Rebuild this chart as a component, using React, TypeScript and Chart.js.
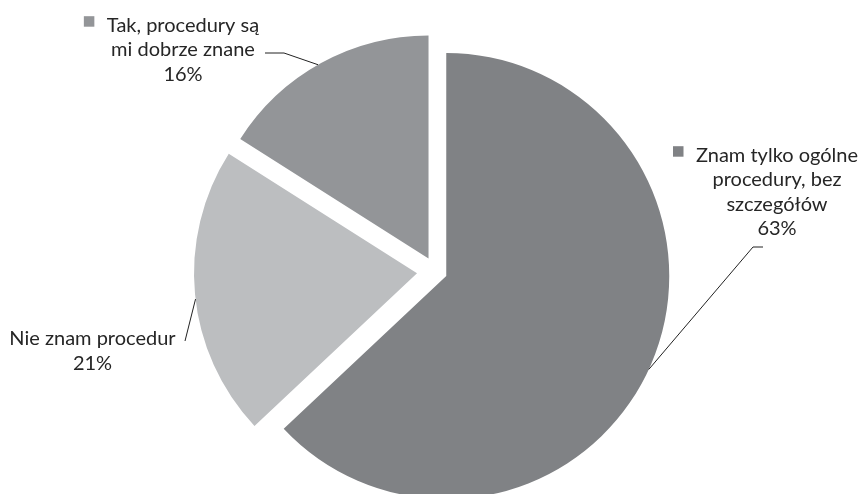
import React, { useEffect, useRef } from "react";
import { Chart, registerables } from "chart.js";

Chart.register(...registerables);

// ---- data ----
const categories = [
  "Znam tylko ogólne procedury, bez szczegółów",
  "Nie znam procedur",
  "Tak, procedury są mi dobrze znane",
];
const values = [63, 21, 16];
const labelLines = [
  ["Znam tylko ogólne", "procedury, bez", "szczegółów"],
  ["Nie znam procedur"],
  ["Tak, procedury są", "mi dobrze znane"],
];
const showKey = [true, false, true];

// ---- styles / layout ----
const colors = ["#808285", "#bcbec0", "#939598"];
const explode = [11.5, 18.75, 14.9];
const FONT = "Lato";
const FONT_SIZE = 20;
const LINE_H = 24.5;
const TEXT_COLOR = "#262626";
const labelLayout = [
  { cx: 777, y: 161.7, elbow: [[763, 247], [753, 247]], angle: 24.75 },
  { cx: 92.5, y: 345, elbow: [[185, 341]], angle: 173.35 },
  { cx: 183, y: 31.7, elbow: [[265, 53], [284, 53]], angle: 240.3 },
];

export default function App() {
  const ref = useRef<HTMLCanvasElement>(null);

  useEffect(() => {
    const canvas = ref.current;
    if (!canvas) return;

    const explodePlugin = {
      id: "explodeDraw",
      beforeDatasetDraw(chart: any, args: any) {
        const ctx = chart.ctx;
        args.meta.data.forEach((arc: any, i: number) => {
          const mid = (arc.startAngle + arc.endAngle) / 2;
          ctx.save();
          ctx.translate(Math.cos(mid) * explode[i], Math.sin(mid) * explode[i]);
          arc.draw(ctx, chart.chartArea);
          ctx.restore();
        });
        return false;
      },
    };

    const labelPlugin = {
      id: "pieLabels",
      afterDatasetsDraw(chart: any) {
        const ctx = chart.ctx;
        const meta = chart.getDatasetMeta(0);
        ctx.save();
        meta.data.forEach((arc: any, i: number) => {
          const mid = (arc.startAngle + arc.endAngle) / 2;
          const acx = arc.x + Math.cos(mid) * explode[i];
          const acy = arc.y + Math.sin(mid) * explode[i];
          const L = labelLayout[i];
          const a = (L.angle * Math.PI) / 180;
          const ex = acx + Math.cos(a) * arc.outerRadius;
          const ey = acy + Math.sin(a) * arc.outerRadius;
          // leader line
          ctx.beginPath();
          ctx.strokeStyle = "#222222";
          ctx.lineWidth = 1;
          ctx.moveTo(L.elbow[0][0], L.elbow[0][1]);
          for (let k = 1; k < L.elbow.length; k++) ctx.lineTo(L.elbow[k][0], L.elbow[k][1]);
          ctx.lineTo(ex, ey);
          ctx.stroke();
          // text
          ctx.font = `${FONT_SIZE}px ${FONT}`;
          ctx.textAlign = "center";
          ctx.textBaseline = "alphabetic";
          ctx.fillStyle = TEXT_COLOR;
          const lines = [...labelLines[i], `${values[i]}%`];
          lines.forEach((t, j) => ctx.fillText(t, L.cx, L.y + j * LINE_H));
          if (showKey[i]) {
            const w = ctx.measureText(lines[0]).width;
            const sz = 10.5;
            ctx.fillStyle = colors[i];
            ctx.fillRect(L.cx - w / 2 - 12.5 - sz, L.y - 15.5, sz, sz);
          }
        });
        ctx.restore();
      },
    };

    const chart = new Chart(canvas, {
      type: "pie",
      data: {
        labels: categories,
        datasets: [
          {
            data: values,
            backgroundColor: colors,
            borderWidth: 0,
            hoverOffset: 0,
            offset: 0,
          },
        ],
      },
      options: {
        responsive: false,
        animation: false,
        devicePixelRatio: 1,
        radius: 223,
        layout: { padding: { left: 8.4, right: 0, top: 0, bottom: 0 } },
        plugins: {
          legend: { display: false },
          tooltip: { enabled: false },
        },
      } as any,
      plugins: [explodePlugin, labelPlugin],
    });
    return () => chart.destroy();
  }, []);

  return (
    <div
      style={{
        position: "absolute",
        left: 0,
        top: 0,
        width: 863,
        height: 494,
        overflow: "hidden",
        background: "#ffffff",
      }}
    >
      <canvas ref={ref} width={863} height={543} style={{ width: 863, height: 543, display: "block" }} />
    </div>
  );
}
